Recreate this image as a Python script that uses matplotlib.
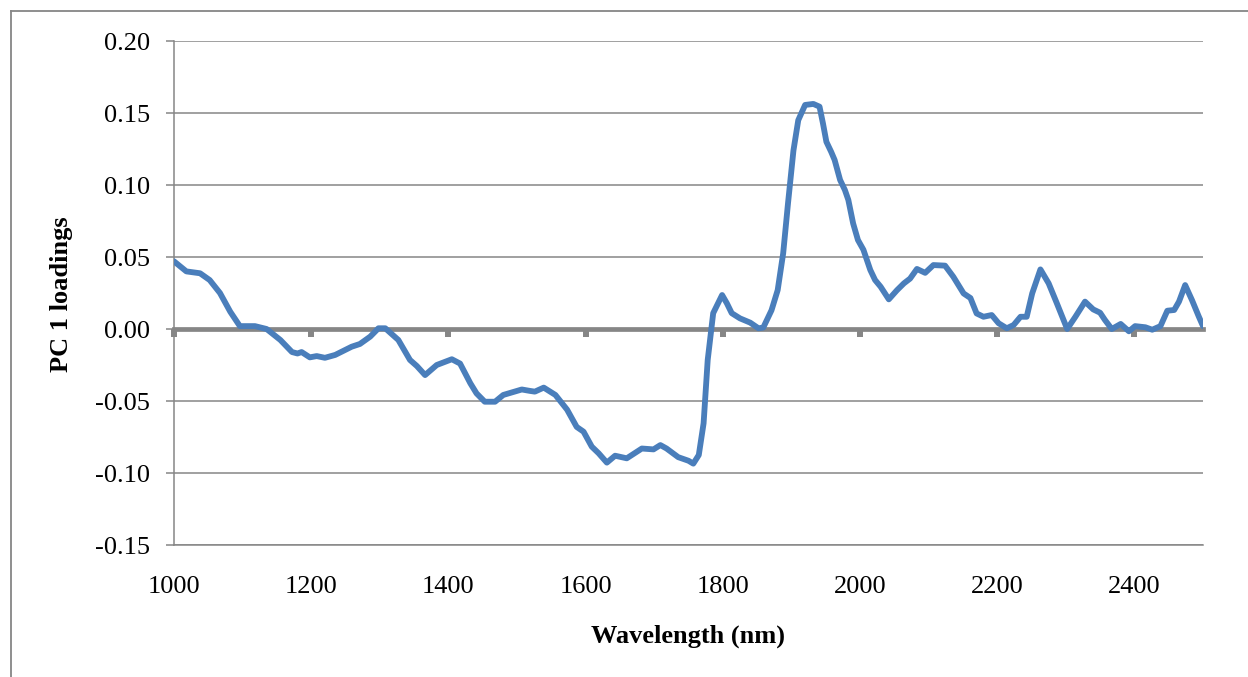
import matplotlib
matplotlib.use("Agg")
import matplotlib.pyplot as plt
from matplotlib.lines import Line2D

plt.rcParams['font.family'] = ['Liberation Serif', 'DejaVu Serif']

# ── Data ────────────────────────────────────────────────────────────────────
wavelength = [1000, 1018, 1038, 1052, 1067, 1082, 1096, 1118, 1135, 1155,
              1172, 1180, 1186, 1198, 1208, 1220, 1235, 1259, 1271, 1286,
              1298, 1308, 1327, 1344, 1354, 1366, 1383, 1405, 1417, 1432,
              1441, 1453, 1468, 1480, 1507, 1519, 1526, 1539, 1556, 1573,
              1587, 1597, 1609, 1619, 1631, 1643, 1660, 1682, 1699, 1709,
              1718, 1735, 1750, 1757, 1765, 1772, 1778, 1786, 1799, 1806,
              1813, 1825, 1840, 1852, 1859, 1871, 1880, 1888, 1895, 1903,
              1910, 1920, 1932, 1941, 1946, 1951, 1958, 1963, 1971, 1978,
              1983, 1990, 1997, 2005, 2015, 2022, 2030, 2042, 2054, 2064,
              2073, 2083, 2095, 2107, 2124, 2136, 2151, 2161, 2170, 2180,
              2192, 2202, 2214, 2224, 2234, 2243, 2251, 2263, 2275, 2287,
              2302, 2314, 2328, 2340, 2350, 2357, 2367, 2380, 2392, 2401,
              2416, 2426, 2438, 2448, 2458, 2465, 2474, 2484, 2494, 2500]
loadings = [0.047, 0.040, 0.0387, 0.034, 0.025, 0.012, 0.002, 0.002, 0.000, -0.0076,
            -0.016, -0.017, -0.016, -0.0197, -0.0188, -0.020, -0.018, -0.0123, -0.0104, -0.0053,
            0.0005, 0.0005, -0.0076, -0.0215, -0.0257, -0.032, -0.025, -0.021, -0.024, -0.0377,
            -0.0447, -0.0505, -0.0505, -0.0458, -0.042, -0.043, -0.0435, -0.0407, -0.0458, -0.056,
            -0.068, -0.0713, -0.0817, -0.0863, -0.0928, -0.088, -0.0898, -0.083, -0.0836, -0.0806,
            -0.083, -0.089, -0.0915, -0.0935, -0.0875, -0.0655, -0.0215, 0.011, 0.0236, 0.0178,
            0.011, 0.0074, 0.0044, 0.0005, 0.001, 0.013, 0.027, 0.0525, 0.087, 0.124,
            0.145, 0.1556, 0.1563, 0.1544, 0.1428, 0.130, 0.123, 0.1174, 0.1035, 0.0965,
            0.0896, 0.0733, 0.0618, 0.055, 0.041, 0.034, 0.0294, 0.0206, 0.027, 0.0317,
            0.035, 0.0417, 0.039, 0.0444, 0.044, 0.0363, 0.0247, 0.0215, 0.0108, 0.0085,
            0.0097, 0.004, 0.0005, 0.0028, 0.0085, 0.0085, 0.0247, 0.0414, 0.0317, 0.0178,
            0.0, 0.0085, 0.019, 0.0136, 0.0113, 0.0063, 0.0, 0.0035, -0.0016, 0.002,
            0.0012, -0.0005, 0.002, 0.0127, 0.0132, 0.019, 0.0305, 0.020, 0.0085, 0.002]

x_ticks = [1000, 1200, 1400, 1600, 1800, 2000, 2200, 2400]
y_ticks = [-0.15, -0.10, -0.05, 0.00, 0.05, 0.10, 0.15, 0.20]

GRAY = '#868686'
BLUE = '#4A7EBB'

fig = plt.figure(figsize=(12.48, 6.77), dpi=100)
ax = fig.add_axes([174 / 1248, 132 / 677, 1029 / 1248, 504 / 677])

ax.set_xlim(1000, 2500)
ax.set_ylim(-0.15, 0.20)

# gridlines
ax.set_yticks(y_ticks)
ax.set_yticklabels([f'{v:.2f}' for v in y_ticks])
ax.grid(axis='y', color=GRAY, lw=1.1)
ax.set_axisbelow(True)

# spines
for s in ('top', 'right'):
    ax.spines[s].set_visible(False)
ax.spines['left'].set_color(GRAY)
ax.spines['left'].set_linewidth(1.1)
ax.spines['bottom'].set_position(('data', 0))
ax.spines['bottom'].set_color(GRAY)
ax.spines['bottom'].set_linewidth(3.4)
ax.spines['bottom'].set_zorder(1.5)

ax.tick_params(axis='y', direction='out', length=5.5, width=1.1, color=GRAY,
               labelsize=19, pad=12)
ax.set_xticks(x_ticks)
ax.tick_params(axis='x', direction='out', length=5.5, width=4.3, color=GRAY,
               labelbottom=False)

# labels for x ticks at the bottom of plot area
sec = ax.secondary_xaxis('bottom')
sec.set_xticks(x_ticks)
sec.tick_params(length=0, labelsize=19, pad=22)
sec.spines['bottom'].set_color(GRAY)
sec.spines['bottom'].set_linewidth(1.1)

ax.plot(wavelength, loadings, color=BLUE, lw=4.2, solid_joinstyle='round',
        solid_capstyle='round', zorder=3)

fig.text(62 / 1248, 1 - 294 / 677, 'PC 1 loadings', rotation=90, fontsize=19,
         fontweight='bold', ha='center', va='center')
fig.text(688 / 1248, 1 - 636 / 677, 'Wavelength (nm)', fontsize=19,
         fontweight='bold', ha='center', va='center')

# outer chart border (left and top edges visible)
fig.add_artist(Line2D([11 / 1248, 11 / 1248], [0, 1 - 11 / 677],
                      transform=fig.transFigure, color=GRAY, lw=1.3))
fig.add_artist(Line2D([11 / 1248, 1], [1 - 11 / 677, 1 - 11 / 677],
                      transform=fig.transFigure, color=GRAY, lw=1.3))

fig.savefig('out.png', dpi=100)
